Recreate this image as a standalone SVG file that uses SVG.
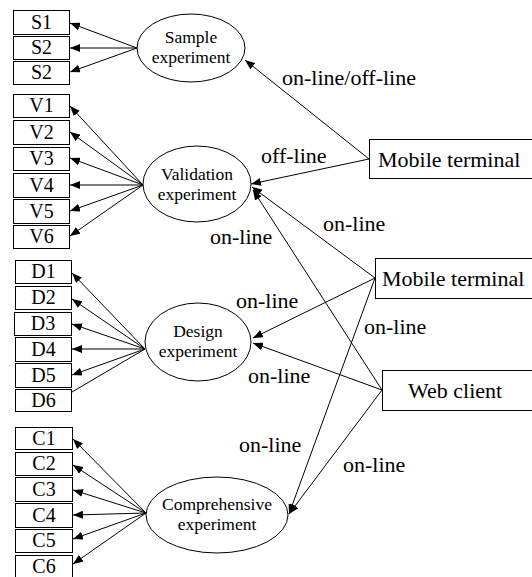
<svg xmlns="http://www.w3.org/2000/svg" width="532" height="577" viewBox="0 0 532 577">
<defs>
<marker id="ah" viewBox="0 0 10 8" refX="10" refY="4" markerWidth="10" markerHeight="8" markerUnits="userSpaceOnUse" orient="auto">
<path d="M0,0 L10,4 L0,8 Z" fill="#000"/>
</marker>
</defs>
<style>
.box{fill:#fff;stroke:#000;stroke-width:1}
ellipse{fill:#fff;stroke:#000;stroke-width:1}
text{font-family:"Liberation Serif","Times New Roman",serif;fill:#000}
.b{font-size:20px;text-anchor:middle}
.e{font-size:17.5px;text-anchor:middle}
.l{font-size:22px}
#conn line{stroke:#000;stroke-width:1;marker-end:url(#ah)}
#conn line.na{marker-end:none}
</style>
<rect width="532" height="577" fill="#fff"/>
<g id="conn">
<line x1="137" y1="48" x2="70" y2="23"/>
<line x1="137" y1="48" x2="70" y2="48"/>
<line x1="137" y1="48" x2="70" y2="72"/>
<line x1="143" y1="185" x2="70" y2="106"/>
<line x1="143" y1="185" x2="70" y2="132"/>
<line x1="143" y1="185" x2="70" y2="158"/>
<line x1="143" y1="185" x2="70" y2="185"/>
<line x1="143" y1="185" x2="70" y2="211"/>
<line x1="143" y1="185" x2="70" y2="236"/>
<line x1="145" y1="349" x2="72" y2="273"/>
<line x1="145" y1="349" x2="72" y2="299"/>
<line x1="145" y1="349" x2="72" y2="324"/>
<line x1="145" y1="349" x2="72" y2="349"/>
<line x1="145" y1="349" x2="72" y2="375"/>
<line class="na" x1="145" y1="349" x2="72" y2="392"/>
<line x1="146" y1="513" x2="73" y2="439"/>
<line x1="146" y1="513" x2="73" y2="465"/>
<line x1="146" y1="513" x2="73" y2="490"/>
<line x1="146" y1="513" x2="73" y2="515"/>
<line x1="146" y1="513" x2="73" y2="539"/>
<line x1="146" y1="513" x2="73" y2="564"/>
<line x1="369" y1="159" x2="245" y2="60"/>
<line x1="369" y1="159" x2="251" y2="184"/>
<line x1="375" y1="278" x2="252" y2="187"/>
<line x1="382" y1="390" x2="253" y2="190"/>
<line x1="375" y1="278" x2="253" y2="338"/>
<line x1="382" y1="390" x2="253" y2="343"/>
<line x1="375" y1="278" x2="289" y2="514"/>
<line x1="382" y1="390" x2="289" y2="514"/>
</g>
<g id="sample"><ellipse cx="191" cy="48" rx="54" ry="34"/><text class="e" x="191" y="43">Sample</text><text class="e" x="191" y="63">experiment</text></g>
<g id="validation"><ellipse cx="197" cy="184" rx="54" ry="38"/><text class="e" x="197" y="180">Validation</text><text class="e" x="197" y="200">experiment</text></g>
<g id="design"><ellipse cx="198" cy="342" rx="53" ry="39"/><text class="e" x="198" y="337">Design</text><text class="e" x="198" y="357">experiment</text></g>
<g id="comprehensive"><ellipse cx="217" cy="515" rx="71" ry="38"/><text class="e" x="217" y="510">Comprehensive</text><text class="e" x="217" y="530">experiment</text></g>
<g id="s1"><rect class="box" x="13.5" y="10.5" width="56" height="24"/><text class="b" x="41.5" y="29">S1</text></g>
<g id="s2"><rect class="box" x="13.5" y="36.5" width="56" height="23"/><text class="b" x="41.5" y="54">S2</text></g>
<g id="s2b"><rect class="box" x="13.5" y="61.5" width="56" height="23"/><text class="b" x="41.5" y="79">S2</text></g>
<g id="v1"><rect class="box" x="13.5" y="94.5" width="56" height="23"/><text class="b" x="41.5" y="112">V1</text></g>
<g id="v2"><rect class="box" x="13.5" y="120.5" width="56" height="24"/><text class="b" x="41.5" y="139">V2</text></g>
<g id="v3"><rect class="box" x="13.5" y="147.5" width="56" height="23"/><text class="b" x="41.5" y="165">V3</text></g>
<g id="v4"><rect class="box" x="13.5" y="173.5" width="56" height="24"/><text class="b" x="41.5" y="192">V4</text></g>
<g id="v5"><rect class="box" x="13.5" y="199.5" width="56" height="24"/><text class="b" x="41.5" y="218">V5</text></g>
<g id="v6"><rect class="box" x="13.5" y="225.5" width="56" height="23"/><text class="b" x="41.5" y="243">V6</text></g>
<g id="d1"><rect class="box" x="15.5" y="260.5" width="56" height="23"/><text class="b" x="43.5" y="278">D1</text></g>
<g id="d2"><rect class="box" x="15.5" y="286.5" width="56" height="23"/><text class="b" x="43.5" y="304">D2</text></g>
<g id="d3"><rect class="box" x="14.5" y="312.5" width="57" height="23"/><text class="b" x="43" y="330">D3</text></g>
<g id="d4"><rect class="box" x="15.5" y="337.5" width="56" height="24"/><text class="b" x="43.5" y="356">D4</text></g>
<g id="d5"><rect class="box" x="15.5" y="363.5" width="56" height="24"/><text class="b" x="43.5" y="382">D5</text></g>
<g id="d6"><rect class="box" x="15.5" y="389.5" width="56" height="22"/><text class="b" x="43.5" y="407">D6</text></g>
<g id="c1"><rect class="box" x="15.5" y="427.5" width="57" height="22"/><text class="b" x="44" y="445">C1</text></g>
<g id="c2"><rect class="box" x="15.5" y="452.5" width="57" height="23"/><text class="b" x="44" y="470">C2</text></g>
<g id="c3"><rect class="box" x="15.5" y="477.5" width="57" height="24"/><text class="b" x="44" y="496">C3</text></g>
<g id="c4"><rect class="box" x="15.5" y="503.5" width="57" height="24"/><text class="b" x="44" y="522">C4</text></g>
<g id="c5"><rect class="box" x="15.5" y="529.5" width="57" height="23"/><text class="b" x="44" y="547">C5</text></g>
<g id="c6"><rect class="box" x="15.5" y="555.5" width="57" height="24"/><text class="b" x="44" y="573">C6</text></g>
<g id="mt1"><rect class="box" x="369.5" y="139.5" width="170" height="39"/><text class="l" x="378" y="167">Mobile terminal</text></g>
<g id="mt2"><rect class="box" x="375.5" y="258.5" width="170" height="40"/><text class="l" x="382" y="286">Mobile terminal</text></g>
<g id="web"><rect class="box" x="382.5" y="370.5" width="160" height="40"/><text class="l" x="408" y="398">Web client</text></g>
<g id="labels">
<text class="l" x="282" y="85">on-line/off-line</text>
<text class="l" x="261" y="163">off-line</text>
<text class="l" x="323" y="231">on-line</text>
<text class="l" x="210" y="244">on-line</text>
<text class="l" x="236" y="308">on-line</text>
<text class="l" x="364" y="334">on-line</text>
<text class="l" x="248" y="383">on-line</text>
<text class="l" x="239" y="452">on-line</text>
<text class="l" x="343" y="472">on-line</text>
</g>
</svg>
